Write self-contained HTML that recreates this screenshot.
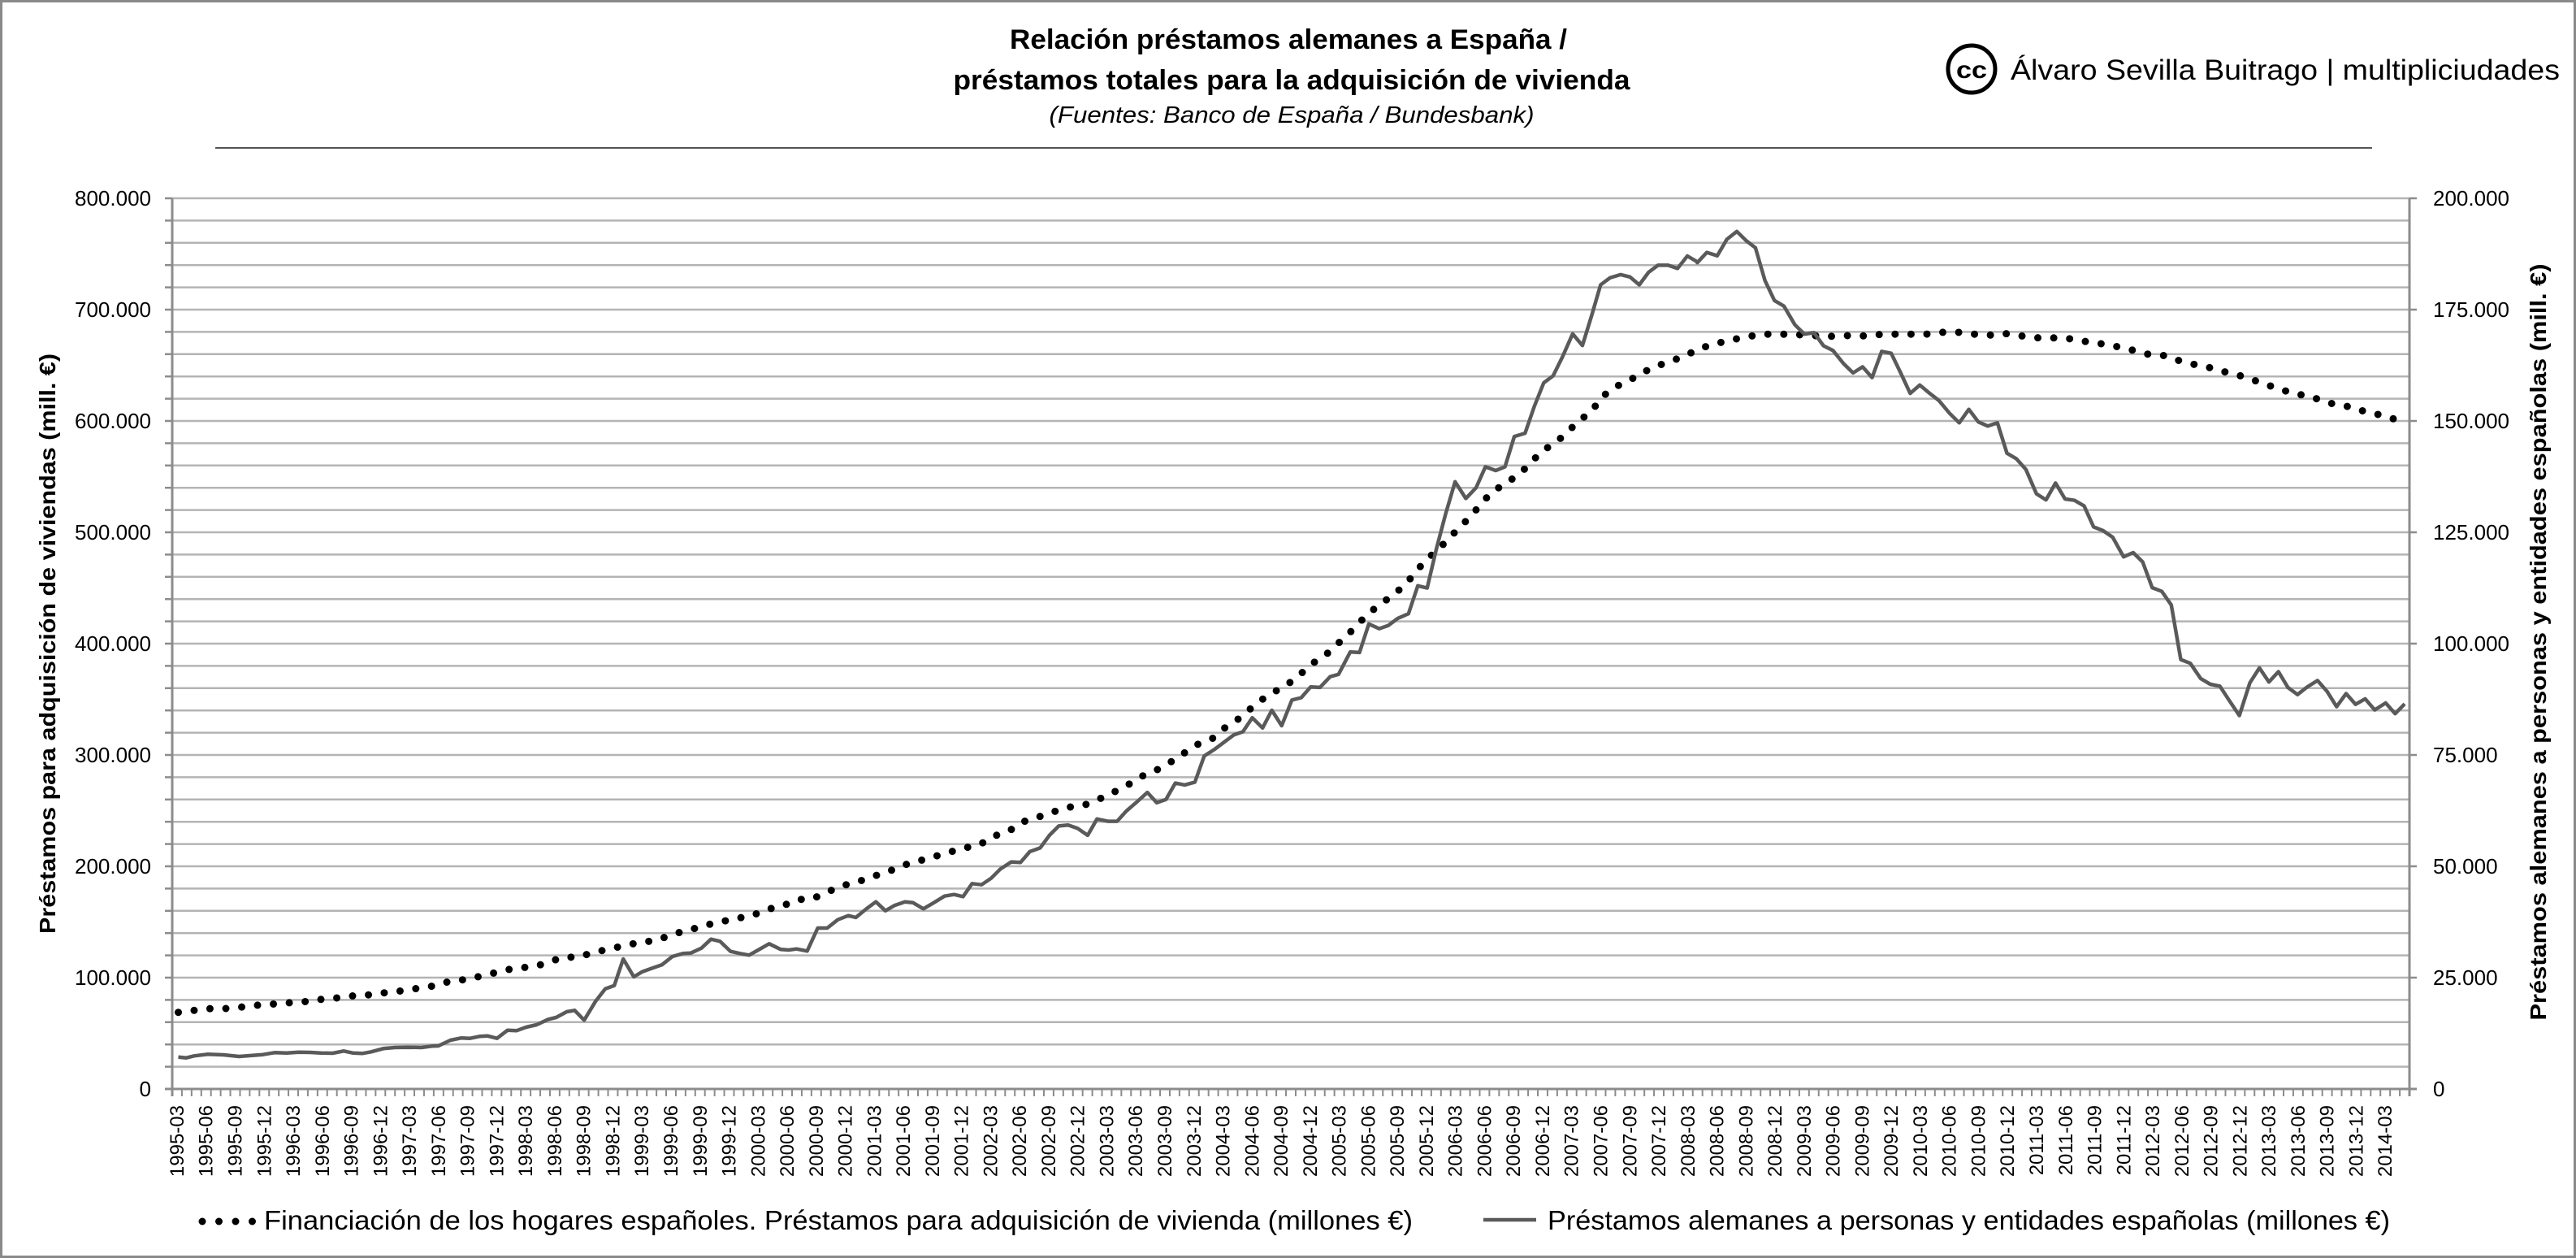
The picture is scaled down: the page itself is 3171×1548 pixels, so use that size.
<!DOCTYPE html>
<html><head><meta charset="utf-8"><style>
html,body{margin:0;padding:0;background:#fff;}
svg{display:block;}
text{font-family:"Liberation Sans",sans-serif;}
</style></head><body>
<svg id="s" width="3171" height="1548" viewBox="0 0 3171 1548" xmlns="http://www.w3.org/2000/svg">
<rect x="1.5" y="1.5" width="3168" height="1545" fill="#fff" stroke="#8a8a8a" stroke-width="3"/>
<text x="1586" y="60" font-size="34" font-weight="bold" text-anchor="middle" textLength="686" lengthAdjust="spacingAndGlyphs">Relación préstamos alemanes a España /</text>
<text x="1590" y="110" font-size="34" font-weight="bold" text-anchor="middle" textLength="833" lengthAdjust="spacingAndGlyphs">préstamos totales para la adquisición de vivienda</text>
<text x="1590" y="151" font-size="29" font-style="italic" text-anchor="middle" textLength="597" lengthAdjust="spacingAndGlyphs">(Fuentes: Banco de España / Bundesbank)</text>
<line x1="265" y1="182" x2="2920" y2="182" stroke="#555" stroke-width="2"/>
<circle cx="2427" cy="85" r="29" fill="none" stroke="#000" stroke-width="5"/>
<text x="2427" y="96" font-size="30" font-weight="bold" text-anchor="middle" textLength="38" lengthAdjust="spacingAndGlyphs">cc</text>
<text x="2475" y="98" font-size="35" textLength="676" lengthAdjust="spacingAndGlyphs">Álvaro Sevilla Buitrago | multipliciudades</text>
<g id="grid"></g>
<g id="ticks"></g>
<g id="labels" font-size="26"></g>
<text transform="translate(68,792) rotate(-90)" font-size="28" font-weight="bold" text-anchor="middle" textLength="714" lengthAdjust="spacingAndGlyphs">Préstamos para adquisición de viviendas (mill. €)</text>
<text transform="translate(3134,790) rotate(-90)" font-size="28" font-weight="bold" text-anchor="middle" textLength="931" lengthAdjust="spacingAndGlyphs">Préstamos alemanes a personas y entidades españolas (mill. €)</text>
<path id="dot" fill="none" stroke="#000" stroke-width="9" stroke-linecap="round" stroke-dasharray="0 19.6"/>
<path id="sol" fill="none" stroke="#5a5a5a" stroke-width="4.5" stroke-linejoin="round"/>
<line x1="249" y1="1503" x2="312" y2="1503" stroke="#000" stroke-width="9" stroke-linecap="round" stroke-dasharray="0 20.5"/>
<text x="325" y="1513" font-size="33" textLength="1414" lengthAdjust="spacingAndGlyphs">Financiación de los hogares españoles. Préstamos para adquisición de vivienda (millones €)</text>
<line x1="1826" y1="1501" x2="1891" y2="1501" stroke="#5a5a5a" stroke-width="4.5"/>
<text x="1905" y="1513" font-size="33" textLength="1037" lengthAdjust="spacingAndGlyphs">Préstamos alemanes a personas y entidades españolas (millones €)</text>
<g id="xl" font-size="24"></g>
</svg>
<script>
var NS="http://www.w3.org/2000/svg";
function el(p,t,a,txt){var e=document.createElementNS(NS,t);for(var k in a)e.setAttribute(k,a[k]);if(txt!=null)e.textContent=txt;document.getElementById(p).appendChild(e);return e;}
var L=212,R=2966,T=244,B=1340,step=(B-T)/40;
for(var i=0;i<40;i++){var y=T+i*step;el("grid","line",{x1:L,x2:R,y1:y,y2:y,stroke:"#b4b4b4","stroke-width":2.5});}
el("ticks","line",{x1:L,x2:L,y1:T,y2:B+9,stroke:"#8c8c8c","stroke-width":3});
el("ticks","line",{x1:R,x2:R,y1:T,y2:B+9,stroke:"#8c8c8c","stroke-width":3});
el("ticks","line",{x1:L-9,x2:R+9,y1:B,y2:B,stroke:"#8c8c8c","stroke-width":3});
for(var i=0;i<=40;i++){var y=T+i*step;el("ticks","line",{x1:L-9,x2:L,y1:y,y2:y,stroke:"#8c8c8c","stroke-width":2.5});if(i%5==0)el("ticks","line",{x1:R,x2:R+9,y1:y,y2:y,stroke:"#8c8c8c","stroke-width":2.5});}
var N=231,w=(R-L)/N;
for(var k=0;k<=N;k++){var x=L+k*w;el("ticks","line",{x1:x,x2:x,y1:B,y2:B+9,stroke:"#8c8c8c","stroke-width":2});}
function fmt(v){if(v==0)return "0";var s=String(v);return s.slice(0,s.length-3)+"."+s.slice(-3);}
for(var i=0;i<=8;i++){var y=B-i*5*step;
el("labels","text",{x:186,y:y+9,"text-anchor":"end"},fmt(i*100000));
el("labels","text",{x:2995,y:y+9},fmt(i*25000));}
for(var q=0;q<77;q++){var yr=1995+Math.floor(q/4),m=[3,6,9,12][q%4];var x=L+w*(3*q+0.5);
el("xl","text",{transform:"translate("+(x+8)+",1360) rotate(-90)","text-anchor":"end"},yr+"-"+(m<10?"0"+m:m));}
function conv(pts,ox,oy,fx,fy){return pts.map(function(p){return [ox+p[0]*fx,oy+p[1]*fy];});}
var s6=[[30,1052],[45,1055],[60,1048],[85,1042],[115,1044],[145,1050],[165,1047],[190,1043],[212,1036],[235,1037],[258,1034],[280,1035],[300,1037],[322,1038],[343,1030],[360,1037],[378,1039],[395,1033],[418,1021],[440,1017],[465,1016],[490,1017],[510,1012],[522,1011],[545,990],[565,982],[582,983],[600,976],[615,974],[633,983],[653,953],[670,955],[688,942],[708,933],[730,913],[745,906],[765,885],[780,880],[798,916],[820,845],[838,800],[855,788],[872,690],[892,756],[908,737],[925,725],[945,712],[965,681],[985,670],[1000,668],[1020,650],[1038,617],[1055,625],[1075,662],[1093,670],[1110,676],[1130,654],[1148,634],[1170,655],[1185,657],[1200,653],[1220,661],[1240,576],[1258,576],[1278,545],[1298,530],[1312,537],[1332,505],[1350,479],[1368,512],[1385,493],[1405,479],[1420,482],[1440,505],[1460,482],[1480,458],[1498,452],[1515,460],[1532,412],[1550,416]];
var s4=[[35,1482],[55,1462],[78,1447],[98,1448],[118,1425],[140,1417],[160,1390],[180,1370],[200,1368],[220,1375],[242,1390],[262,1355],[285,1360],[305,1360],[325,1338],[348,1318],[370,1298],[390,1320],[410,1313],[430,1278],[450,1282],[472,1276],[492,1220],[515,1205],[535,1190],[555,1175],[575,1168],[595,1138],[617,1160],[637,1122],[658,1155],[680,1100],[700,1095],[720,1072],[740,1073],[762,1050],[780,1045],[805,997],[825,998],[845,937],[867,947],[887,940],[907,925],[930,915],[950,855],[970,860],[990,775],[1010,700],[1030,632],[1053,668],[1075,645],[1095,600],[1117,608],[1137,600],[1157,535],[1180,528],[1200,470],[1220,420],[1240,405],[1260,365],[1282,315],[1303,340],[1323,275],[1342,210],[1362,195],[1385,188],[1405,193],[1425,210],[1445,183],[1465,168],[1487,168],[1507,175],[1528,148],[1548,160]];
var s5=[[50,162],[70,140],[92,147],[112,112],[133,95],[153,115],[172,130],[192,200],[212,243],[232,255],[255,295],[275,315],[295,312],[315,340],[335,350],[357,378],[377,398],[397,385],[417,408],[437,352],[457,356],[477,398],[497,442],[517,424],[537,441],[557,457],[580,485],[600,505],[620,476],[640,503],[660,512],[680,505],[700,570],[720,582],[740,605],[762,657],[782,670],[802,634],[822,668],[842,671],[862,683],[882,728],[902,736],[922,750],[945,792],[965,783],[985,803],[1005,858],[1025,866],[1045,895],[1065,1012],[1085,1020],[1107,1053],[1127,1065],[1147,1069],[1167,1100],[1188,1132],[1210,1062],[1230,1030],[1250,1060],[1270,1038],[1290,1072],[1310,1087],[1330,1071],[1352,1057],[1372,1080],[1392,1113],[1412,1085],[1432,1108],[1452,1096],[1472,1120],[1495,1105],[1515,1128],[1535,1107]];
var d6=[[30,887],[60,880],[92,873],[122,873],[152,867],[183,860],[213,856],[244,851],[274,847],[305,838],[335,833],[366,825],[396,822],[427,813],[457,807],[487,797],[518,788],[547,770],[577,766],[607,751],[638,737],[668,723],[698,720],[728,705],[756,684],[786,683],[816,666],[846,653],[876,640],[906,628],[936,622],[965,598],[994,586],[1023,567],[1053,555],[1083,541],[1114,532],[1142,507],[1171,497],[1200,471],[1230,468],[1258,443],[1286,420],[1315,406],[1343,386],[1372,369],[1400,345],[1428,330],[1457,314],[1486,298],[1515,281],[1545,270]];
var d4=[[40,1392],[72,1382],[100,1362],[133,1352],[167,1340],[200,1330],[233,1326],[265,1313],[297,1298],[328,1282],[357,1264],[390,1250],[420,1233],[450,1213],[478,1195],[510,1182],[538,1158],[566,1140],[593,1117],[620,1096],[650,1078],[680,1060],[707,1037],[733,1015],[762,996],[787,971],[812,948],[836,922],[862,900],[890,880],[917,858],[941,832],[963,804],[990,780],[1013,758],[1037,732],[1062,708],[1085,680],[1108,655],[1137,636],[1165,618],[1190,594],[1215,567],[1243,550],[1270,527],[1295,501],[1322,483],[1342,453],[1370,430],[1400,417],[1430,399],[1462,384],[1495,373],[1527,360]];
var d5=[[57,345],[90,335],[123,327],[157,320],[190,315],[225,315],[258,316],[292,318],[325,320],[360,318],[395,319],[428,316],[462,315],[497,315],[530,315],[565,311],[598,311],[632,315],[665,317],[700,314],[733,319],[767,323],[800,323],[833,325],[867,331],[900,336],[933,342],[967,350],[1000,359],[1033,361],[1065,373],[1098,381],[1132,388],[1165,398],[1197,406],[1230,418],[1262,429],[1295,440],[1327,447],[1360,456],[1392,467],[1424,471],[1457,483],[1490,489],[1522,500]];
function path(a){return "M"+a.map(function(p){return p[0].toFixed(1)+","+p[1].toFixed(1);}).join("L");}
var S=conv(s6,200,950,0.6505,1/3).concat(conv(s4,1200,230,0.574,0.574)).concat(conv(s5,2060,230.2,0.5864,0.5745));
var D=conv(d6,200,950,0.6505,1/3).concat(conv(d4,1200,230,0.574,0.574)).concat(conv(d5,2060,230.2,0.5864,0.5745));
document.getElementById("sol").setAttribute("d",path(S));
document.getElementById("dot").setAttribute("d",path(D));
</script>
</body></html>
